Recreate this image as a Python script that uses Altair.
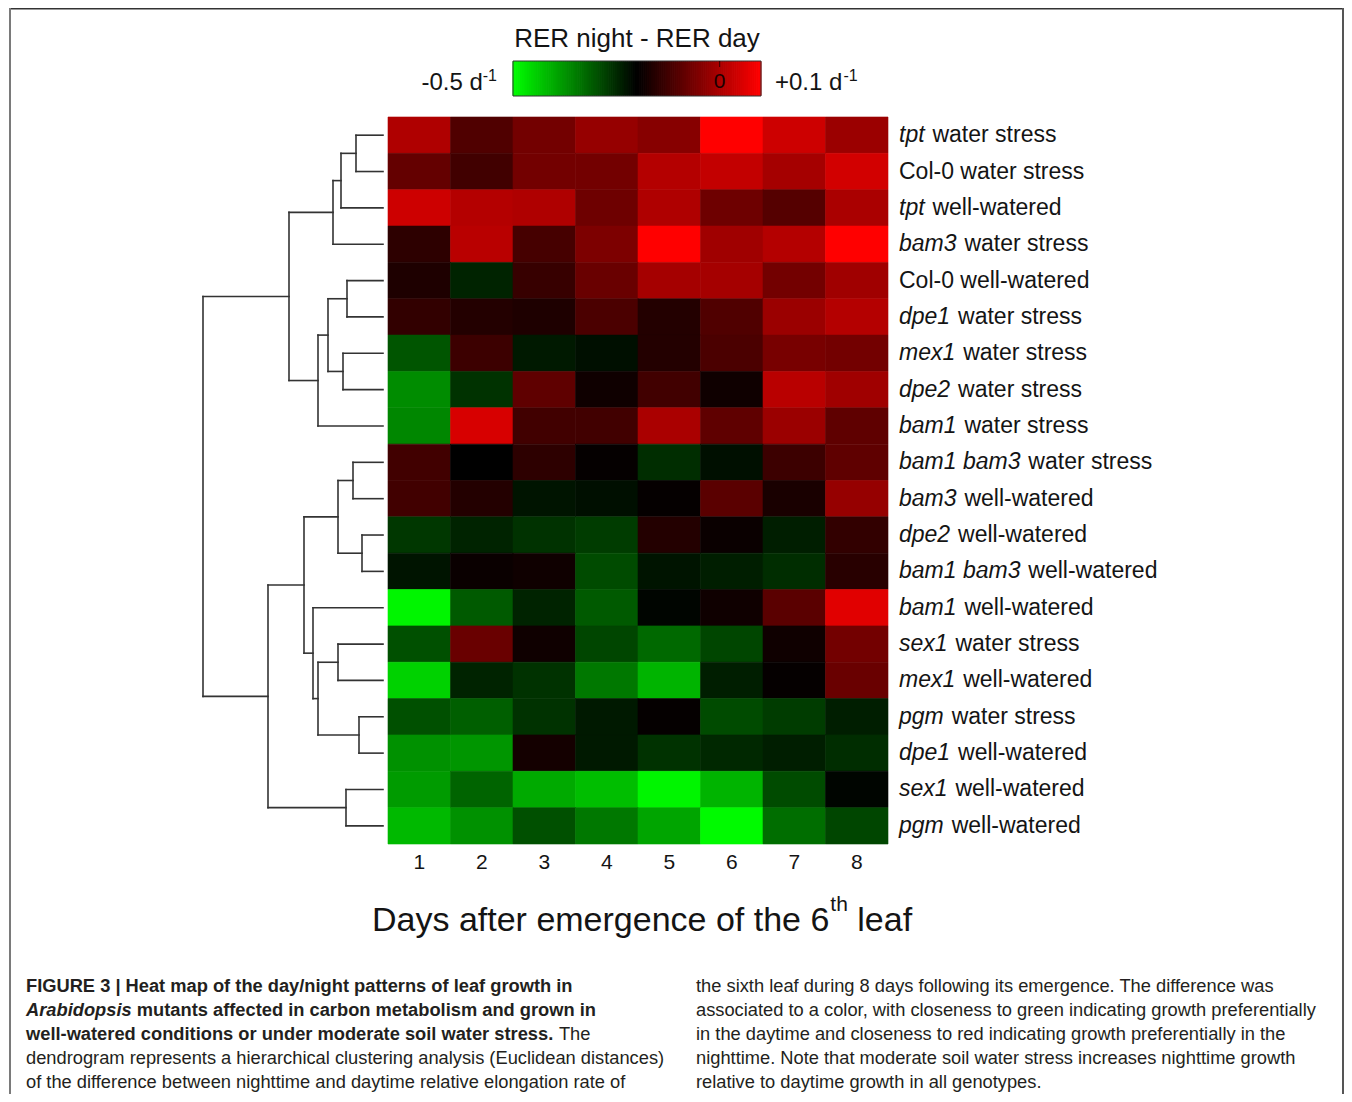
import altair as alt
import pandas as pd
import numpy as np

# ---------------- data ----------------
genotypes = ["tpt", "Col-0", "tpt", "bam3", "Col-0", "dpe1", "mex1", "dpe2", "bam1",
             "bam1 bam3", "bam3", "dpe2", "bam1 bam3", "bam1", "sex1", "mex1", "pgm",
             "dpe1", "sex1", "pgm"]
conditions = ["water stress", "water stress", "well-watered", "water stress", "well-watered",
              "water stress", "water stress", "water stress", "water stress", "water stress",
              "well-watered", "well-watered", "well-watered", "well-watered", "water stress",
              "well-watered", "water stress", "well-watered", "well-watered", "well-watered"]
days = [1, 2, 3, 4, 5, 6, 7, 8]

# RER night - RER day (d^-1), one list per day, rows top to bottom
day1 = [0.006, -0.082, 0.041, -0.147, -0.165, -0.141, -0.300, -0.365, -0.359, -0.124,
        -0.124, -0.265, -0.224, -0.488, -0.294, -0.447, -0.294, -0.371, -0.382, -0.418]
day2 = [-0.106, -0.124, 0.012, 0.018, -0.241, -0.159, -0.129, -0.259, 0.053, -0.200,
        -0.159, -0.241, -0.188, -0.306, -0.076, -0.241, -0.312, -0.376, -0.318, -0.371]
day3 = [-0.065, -0.065, 0.006, -0.118, -0.135, -0.165, -0.229, -0.088, -0.124, -0.147,
        -0.224, -0.259, -0.182, -0.241, -0.182, -0.259, -0.259, -0.176, -0.400, -0.294]
day4 = [-0.024, -0.065, -0.071, -0.053, -0.076, -0.112, -0.218, -0.182, -0.124, -0.194,
        -0.218, -0.271, -0.288, -0.306, -0.282, -0.341, -0.229, -0.229, -0.424, -0.341]
day5 = [-0.041, 0.012, 0.006, 0.100, -0.006, -0.159, -0.159, -0.124, 0.000, -0.253,
        -0.194, -0.159, -0.224, -0.206, -0.324, -0.412, -0.194, -0.259, -0.488, -0.394]
day6 = [0.100, 0.029, -0.071, -0.012, -0.006, -0.106, -0.112, -0.182, -0.088, -0.218,
        -0.094, -0.188, -0.235, -0.182, -0.282, -0.235, -0.288, -0.247, -0.412, -0.494]
day7 = [0.041, -0.006, -0.100, 0.012, -0.065, -0.018, -0.059, 0.018, -0.018, -0.129,
        -0.171, -0.235, -0.253, -0.094, -0.182, -0.194, -0.271, -0.235, -0.288, -0.329]
day8 = [-0.018, 0.047, 0.000, 0.100, -0.012, 0.012, -0.065, -0.012, -0.088, -0.088,
        -0.024, -0.141, -0.153, 0.065, -0.065, -0.076, -0.235, -0.253, -0.206, -0.282]

# hierarchical clustering: leaves 0..19, merges get ids 20, 21, ...
merge_left = [0, 20, 21, 4, 6, 23, 25, 22, 9, 11, 28, 14, 16, 31, 13, 30, 18, 35, 27]
merge_right = [1, 2, 3, 5, 7, 24, 8, 26, 10, 12, 29, 15, 17, 32, 33, 34, 19, 36, 37]
merge_height = [27, 42, 50, 36, 40, 55, 65, 94, 30, 21, 45, 45, 24, 65, 70, 79, 37, 115, 180]

legend_min, legend_mid, legend_max = -0.5, -0.2, 0.1

caption_left = [
    "FIGURE 3 | Heat map of the day/night patterns of leaf growth in",
    "Arabidopsis", " mutants affected in carbon metabolism and grown in",
    "well-watered conditions or under moderate soil water stress.", " The",
    "dendrogram represents a hierarchical clustering analysis (Euclidean distances)",
    "of the difference between nighttime and daytime relative elongation rate of",
]
caption_right = [
    "the sixth leaf during 8 days following its emergence. The difference was",
    "associated to a color, with closeness to green indicating growth preferentially",
    "in the daytime and closeness to red indicating growth preferentially in the",
    "nighttime. Note that moderate soil water stress increases nighttime growth",
    "relative to daytime growth in all genotypes.",
]

# ---------------- font metrics (Arial / Liberation Sans, per 1000 em) ----------------
FONT = "Liberation Sans, Arial, Helvetica, sans-serif"
_reg = {' ': 278, '!': 278, '(': 333, ')': 333, ',': 278, '-': 333, '.': 278, '/': 278,
        '|': 260, '+': 584, ':': 278}
_bold = {' ': 278, '!': 333, '(': 333, ')': 333, ',': 278, '-': 333, '.': 278, '/': 278,
         '|': 280, '+': 584, ':': 333}
for d in "0123456789":
    _reg[d] = 556
    _bold[d] = 556
_reg.update(dict(zip("ABCDEFGHIJKLMNOPQRSTUVWXYZ",
                     [667, 667, 722, 722, 667, 611, 778, 722, 278, 500, 667, 556, 833, 722, 778,
                      667, 778, 722, 667, 611, 722, 667, 944, 667, 667, 611])))
_reg.update(dict(zip("abcdefghijklmnopqrstuvwxyz",
                     [556, 556, 500, 556, 556, 278, 556, 556, 222, 222, 500, 222, 833, 556, 556,
                      556, 556, 333, 500, 278, 556, 500, 722, 500, 500, 500])))
_bold.update(dict(zip("ABCDEFGHIJKLMNOPQRSTUVWXYZ",
                      [722, 722, 722, 722, 667, 611, 778, 722, 278, 556, 722, 611, 833, 722, 778,
                       667, 778, 722, 667, 611, 722, 667, 944, 667, 667, 611])))
_bold.update(dict(zip("abcdefghijklmnopqrstuvwxyz",
                      [556, 611, 556, 611, 556, 333, 611, 611, 278, 278, 556, 278, 889, 611, 611,
                       611, 611, 389, 556, 333, 611, 556, 778, 556, 556, 500])))


def tw(s, size, bold=False):
    t = _bold if bold else _reg
    return sum(t.get(c, 556) for c in s) * size / 1000.0


W, H = 1336, 1086

# ---------------- scales ----------------
day_scale = alt.Scale(domain=[0.5, 8.5], range=[380, 880], nice=False, zero=False)
row_scale = alt.Scale(domain=[-0.5, 19.5], range=[109, 836], nice=False, zero=False)
dendro_scale = alt.Scale(domain=[0, 180], range=[375, 195], nice=False, zero=False)
legend_scale = alt.Scale(domain=[legend_min, legend_max], range=[505, 753], nice=False, zero=False)
page_scale = alt.Scale(domain=[0, W], range=[0, W], nice=False, zero=False)
color_scale = alt.Scale(domain=[legend_min, legend_mid, legend_max],
                        range=["#00ff00", "#000000", "#ff0000"], interpolate="rgb", clamp=True)
px_per_day = 500 / 8.0

# ---------------- heat map ----------------
cols = [day1, day2, day3, day4, day5, day6, day7, day8]
heat = pd.DataFrame([{"row": r, "day": d, "v": cols[d - 1][r]}
                     for r in range(len(genotypes)) for d in days])
heat_layer = alt.Chart(heat).transform_calculate(
    x0="datum.day - 0.5", x1="datum.day + 0.5", y0="datum.row - 0.5", y1="datum.row + 0.5"
).mark_rect(strokeWidth=0.6).encode(
    x=alt.X("x0:Q", scale=day_scale, axis=None), x2="x1:Q",
    y=alt.Y("y0:Q", scale=row_scale, axis=None), y2="y1:Q",
    color=alt.Color("v:Q", scale=color_scale, legend=None),
    stroke=alt.Stroke("v:Q", scale=color_scale, legend=None),
)

# ---------------- dendrogram ----------------
pos = {i: (float(i), 0.0) for i in range(len(genotypes))}
segs = []
for k, (a, b, h) in enumerate(zip(merge_left, merge_right, merge_height)):
    ya, ha = pos[a]
    yb, hb = pos[b]
    segs.append({"h1": ha, "h2": h, "y1": ya, "y2": ya})
    segs.append({"h1": hb, "h2": h, "y1": yb, "y2": yb})
    segs.append({"h1": h, "h2": h, "y1": ya, "y2": yb})
    pos[len(genotypes) + k] = ((ya + yb) / 2.0, float(h))
dendro_layer = alt.Chart(pd.DataFrame(segs)).mark_rule(
    color="#333333", strokeWidth=1.6, strokeCap="square"
).encode(
    x=alt.X("h1:Q", scale=dendro_scale, axis=None), x2="h2:Q",
    y=alt.Y("y1:Q", scale=row_scale, axis=None), y2="y2:Q",
)

# ---------------- row labels ----------------
LAB = 23
lab_rows = []
for r, (g, c) in enumerate(zip(genotypes, conditions)):
    italic = g != "Col-0"
    xg = 8.5 + 11 / px_per_day
    xc = xg + (tw(g, LAB) + tw(" ", LAB) + (1.5 if italic else 0)) / px_per_day
    lab_rows.append({"row": r, "gene": g, "cond": c, "italic": italic, "xg": xg, "xc": xc})
lab = pd.DataFrame(lab_rows)


def label_layer(df, field, xfield, style):
    return alt.Chart(df).mark_text(
        align="left", baseline="alphabetic", dy=7, fontSize=LAB, font=FONT,
        fontStyle=style, color="#141414"
    ).encode(
        x=alt.X(f"{xfield}:Q", scale=day_scale, axis=None),
        y=alt.Y("row:Q", scale=row_scale, axis=None),
        text=f"{field}:N",
    )


gene_it = label_layer(lab[lab["italic"]], "gene", "xg", "italic")
gene_wt = label_layer(lab[~lab["italic"]], "gene", "xg", "normal")
cond_lab = label_layer(lab, "cond", "xc", "normal")

# ---------------- x tick labels & title ----------------
ticks = alt.Chart(pd.DataFrame({"day": days})).mark_text(
    align="center", baseline="alphabetic", fontSize=21, font=FONT, color="#141414"
).encode(
    x=alt.X("day:Q", scale=day_scale, axis=None), y=alt.value(861), text="day:N"
)

T = 34
t_main = "Days after emergence of the 6"
t_x = 364
w_main = tw(t_main, T)
w_th = tw("th", 21)
title_df = pd.DataFrame([
    {"t": t_main, "x": t_x, "y": 923, "s": T},
    {"t": "th", "x": t_x + w_main + 1, "y": 903, "s": 21},
    {"t": "leaf", "x": t_x + w_main + 1 + w_th + tw(" ", T), "y": 923, "s": T},
])
title_layers = [
    alt.Chart(title_df.iloc[[i]]).mark_text(
        align="left", baseline="alphabetic", fontSize=float(title_df.s[i]), font=FONT,
        color="#141414"
    ).encode(x=alt.X("x:Q", scale=page_scale, axis=None), y=alt.value(float(title_df.y[i])),
             text="t:N")
    for i in range(len(title_df))
]

# ---------------- colour legend ----------------
edges = np.linspace(legend_min, legend_max, 121)
grad = pd.DataFrame({"lo": edges[:-1], "hi": edges[1:], "v": (edges[:-1] + edges[1:]) / 2})
grad_layer = alt.Chart(grad).mark_rect(strokeWidth=1).encode(
    x=alt.X("lo:Q", scale=legend_scale, axis=None), x2="hi:Q",
    y=alt.value(53.5), y2=alt.value(87.5),
    color=alt.Color("v:Q", scale=color_scale, legend=None),
    stroke=alt.Stroke("v:Q", scale=color_scale, legend=None),
)
ends = pd.DataFrame({"lo": [legend_min], "hi": [legend_max], "zero": [0.0], "mid": [legend_mid]})
grad_border = alt.Chart(ends).mark_rect(filled=False, stroke="#333333", strokeWidth=1).encode(
    x=alt.X("lo:Q", scale=legend_scale, axis=None), x2="hi:Q",
    y=alt.value(53), y2=alt.value(88),
)
zero_tick = alt.Chart(ends).mark_rule(color="#330000", strokeWidth=1).encode(
    x=alt.X("zero:Q", scale=legend_scale, axis=None), y=alt.value(53), y2=alt.value(59)
)
zero_lab = alt.Chart(ends).mark_text(
    align="center", baseline="alphabetic", fontSize=21, font=FONT, color="#1a0000"
).encode(x=alt.X("zero:Q", scale=legend_scale, axis=None), y=alt.value(80),
         text=alt.value("0"))
leg_title = alt.Chart(ends).mark_text(
    align="center", baseline="alphabetic", fontSize=26, font=FONT, color="#141414"
).encode(x=alt.X("mid:Q", scale=legend_scale, axis=None), y=alt.value(39),
         text=alt.value("RER night - RER day"))

L, S = 24, 16
w_sup = tw("-1", S)
left_main = "-0.5 d"
right_main = "+0.1 d"
leg_lab_layers = [
    alt.Chart(ends).mark_text(align="right", baseline="alphabetic", fontSize=L, font=FONT,
                              color="#141414", dx=-(16 + w_sup))
    .encode(x=alt.X("lo:Q", scale=legend_scale, axis=None), y=alt.value(82),
            text=alt.value(left_main)),
    alt.Chart(ends).mark_text(align="right", baseline="alphabetic", fontSize=S, font=FONT,
                              color="#141414", dx=-16)
    .encode(x=alt.X("lo:Q", scale=legend_scale, axis=None), y=alt.value(73),
            text=alt.value("-1")),
    alt.Chart(ends).mark_text(align="left", baseline="alphabetic", fontSize=L, font=FONT,
                              color="#141414", dx=14)
    .encode(x=alt.X("hi:Q", scale=legend_scale, axis=None), y=alt.value(82),
            text=alt.value(right_main)),
    alt.Chart(ends).mark_text(align="left", baseline="alphabetic", fontSize=S, font=FONT,
                              color="#141414", dx=14 + tw(right_main, L) + 1)
    .encode(x=alt.X("hi:Q", scale=legend_scale, axis=None), y=alt.value(73),
            text=alt.value("-1")),
]

# ---------------- caption ----------------
C = 18.3
xl, xr = 18, 688
cap_line_scale = alt.Scale(domain=[0, 4], range=[984, 1080], nice=False, zero=False)
segs_cap = [
    {"t": caption_left[0], "line": 0, "x": xl, "w": "bold", "st": "normal"},
    {"t": caption_left[1], "line": 1, "x": xl, "w": "bold", "st": "italic"},
    {"t": caption_left[2].strip(), "line": 1,
     "x": xl + tw(caption_left[1], C, True) + tw(" ", C, True), "w": "bold", "st": "normal"},
    {"t": caption_left[3], "line": 2, "x": xl, "w": "bold", "st": "normal"},
    {"t": caption_left[4].strip(), "line": 2,
     "x": xl + tw(caption_left[3], C, True) + tw(" ", C), "w": "normal", "st": "normal"},
    {"t": caption_left[5], "line": 3, "x": xl, "w": "normal", "st": "normal"},
    {"t": caption_left[6], "line": 4, "x": xl, "w": "normal", "st": "normal"},
]
for i, t in enumerate(caption_right):
    segs_cap.append({"t": t, "line": i, "x": xr, "w": "normal", "st": "normal"})
cap = pd.DataFrame(segs_cap)


def cap_layer(df, weight, style):
    return alt.Chart(df).mark_text(
        align="left", baseline="alphabetic", fontSize=C, font=FONT, fontWeight=weight,
        fontStyle=style, color="#231f20"
    ).encode(
        x=alt.X("x:Q", scale=page_scale, axis=None),
        y=alt.Y("line:Q", scale=cap_line_scale, axis=None),
        text="t:N",
    )


cap_layers = [
    cap_layer(cap[(cap.w == "bold") & (cap.st == "normal")], "bold", "normal"),
    cap_layer(cap[(cap.w == "bold") & (cap.st == "italic")], "bold", "italic"),
    cap_layer(cap[(cap.w == "normal")], "normal", "normal"),
]

# ---------------- figure frame (top, left, right; open at the bottom) ----------------
frame_top = alt.Chart(ends).mark_rule(color="#333333", strokeWidth=2).encode(
    x=alt.value(1), x2=alt.value(W - 1), y=alt.value(0.5))
frame_left = alt.Chart(ends).mark_rule(color="#7a7a7a", strokeWidth=2).encode(
    x=alt.value(2), y=alt.value(0), y2=alt.value(H))
frame_right = alt.Chart(ends).mark_rule(color="#555555", strokeWidth=2).encode(
    x=alt.value(W - 1), y=alt.value(0), y2=alt.value(H))

chart = alt.layer(
    heat_layer, dendro_layer, gene_it, gene_wt, cond_lab, ticks, *title_layers,
    grad_layer, grad_border, zero_tick, zero_lab, leg_title, *leg_lab_layers, *cap_layers,
    frame_top, frame_left, frame_right
).resolve_scale(
    x="independent", y="independent"
).properties(
    width=W, height=H, padding=0, autosize=alt.AutoSizeParams(type="none")
).configure_view(
    stroke=None
)

chart.save("out.html", embed_options={"renderer": "svg", "actions": False})
